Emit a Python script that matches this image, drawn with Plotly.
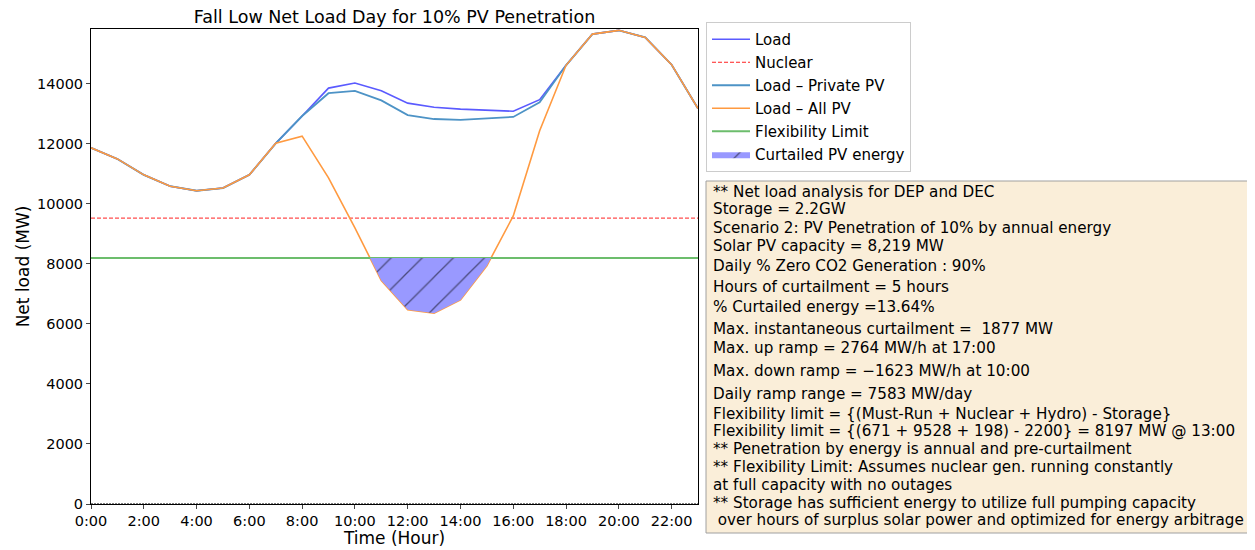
import numpy as np
import plotly.graph_objects as go

hours = list(range(24))
tick_vals = list(range(0, 24, 2))
tick_text = ["0:00", "2:00", "4:00", "6:00", "8:00", "10:00", "12:00", "14:00", "16:00", "18:00", "20:00", "22:00"]
y_ticks = [0, 2000, 4000, 6000, 8000, 10000, 12000, 14000]
y_tick_text = ["0", "2000", "4000", "6000", "8000", "10000", "12000", "14000"]

load = [11870, 11500, 10970, 10590, 10440, 10530, 10970, 12020, 12930, 13860, 14030, 13770,
        13360, 13220, 13160, 13125, 13090, 13475, 14620, 15660, 15785, 15550, 14640, 13180]
load_private_pv = [11870, 11500, 10970, 10590, 10440, 10530, 10970, 12020, 12930, 13690, 13770, 13450,
                   12960, 12830, 12800, 12860, 12900, 13390, 14620, 15660, 15785, 15550, 14640, 13180]
load_all_pv = [11870, 11500, 10970, 10590, 10440, 10530, 10970, 12020, 12260, 10870, 9200, 7450,
               6470, 6360, 6800, 7940, 9600, 12440, 14620, 15660, 15785, 15550, 14640, 13180]
nuclear = 9528
flex_limit = 8197

annotation_lines = [
    "** Net load analysis for DEP and DEC",
    "Storage = 2.2GW",
    "Scenario 2: PV Penetration of 10% by annual energy",
    "Solar PV capacity = 8,219 MW",
    "Daily % Zero CO2 Generation : 90%",
    "Hours of curtailment = 5 hours",
    "% Curtailed energy =13.64%",
    "Max. instantaneous curtailment =  1877 MW",
    "Max. up ramp = 2764 MW/h at 17:00",
    "Max. down ramp = \u22121623 MW/h at 10:00",
    "Daily ramp range = 7583 MW/day",
    "Flexibility limit = {(Must-Run + Nuclear + Hydro) - Storage}",
    "Flexibility limit = {(671 + 9528 + 198) - 2200} = 8197 MW @ 13:00",
    "** Penetration by energy is annual and pre-curtailment",
    "** Flexibility Limit: Assumes nuclear gen. running constantly",
    "at full capacity with no outages",
    "** Storage has sufficient energy to utilize full pumping capacity",
    "\u00a0over hours of surplus solar power and optimized for energy arbitrage",
]
line_py = [191.7, 209.3, 228.3, 245.7, 265.7, 287.3, 307, 329, 348.3, 371.3, 394, 414,
           431.3, 449, 466.7, 485, 502.7, 520]

# curtailed region polygon (below flexibility limit)
h = np.array(hours, dtype=float)
a = np.array(load_all_pv, dtype=float)
poly_x, poly_y = [], []
for i in range(len(h) - 1):
    y0, y1 = a[i], a[i + 1]
    if (y0 - flex_limit) * (y1 - flex_limit) < 0:
        xc = h[i] + (flex_limit - y0) / (y1 - y0)
        poly_x.append(xc); poly_y.append(flex_limit)
    if y1 < flex_limit:
        poly_x.append(h[i + 1]); poly_y.append(y1)
poly_x.append(poly_x[0]); poly_y.append(flex_limit)

OFF = 8  # page body margin
L, R, T, B = 91 - OFF, 698 - OFF, 29 - OFF, 504 - OFF
W, H = 1245, 540
def px(x):
    return (x - OFF - L) / (R - L)
def py(y):
    return (B - (y - OFF)) / (B - T)

fig = go.Figure()
fig.add_trace(go.Scatter(x=hours, y=load, mode="lines", name="Load", legendgroup="a",
                         line=dict(color="#5a5aff", width=1.6)))
fig.add_trace(go.Scatter(x=[0, 23], y=[nuclear, nuclear], mode="lines", name="Nuclear", legendgroup="b",
                         line=dict(color="#ff2020", width=1, dash="4px,2px")))
fig.add_trace(go.Scatter(x=hours, y=load_private_pv, mode="lines", name="Load \u2013 Private PV", legendgroup="c",
                         line=dict(color="#4d93c6", width=1.8)))
fig.add_trace(go.Scatter(x=hours, y=load_all_pv, mode="lines", name="Load \u2013 All PV", legendgroup="d",
                         line=dict(color="#ff9a40", width=1.6)))
fig.add_trace(go.Scatter(x=[0, 23], y=[flex_limit, flex_limit], mode="lines", name="Flexibility Limit", legendgroup="e",
                         line=dict(color="#6cbd6c", width=2)))
fig.add_trace(go.Scatter(x=poly_x, y=poly_y, mode="lines", fill="toself", name="Curtailed PV energy", legendgroup="f",
                         line=dict(width=0, color="rgba(0,0,0,0)"),
                         fillcolor="#9999ff",
                         fillpattern=dict(shape="/", fgcolor="black", bgcolor="#9999ff", size=22, solidity=0.06)))
fig.add_trace(go.Scatter(x=[0, 23], y=[0, 0], mode="lines", showlegend=False,
                         line=dict(color="black", width=1.2, dash="2px,1px")))

fig.add_shape(type="rect", xref="paper", yref="paper",
              x0=px(706), x1=px(1250), y0=py(533), y1=py(181),
              fillcolor="#faeed9", line=dict(color="#a0a0a0", width=1), layer="below")
for txt, yy in zip(annotation_lines, line_py):
    fig.add_annotation(x=px(710.5), y=py(yy), xref="paper", yref="paper", text=txt, showarrow=False,
                       xanchor="left", yanchor="middle", font=dict(size=15.2, color="black", family="DejaVu Sans"))

fig.update_layout(
    width=W, height=H,
    margin=dict(l=L, r=W - R, t=T, b=H - B, autoexpand=False),
    plot_bgcolor="white", paper_bgcolor="white",
    font=dict(family="DejaVu Sans", size=14, color="black"),
    title=dict(text="Fall Low Net Load Day for 10% PV Penetration", x=(L + R) / 2 / W, xanchor="center",
               y=1 - (17 - OFF) / H, yanchor="middle", font=dict(size=17.5)),
    legend=dict(x=px(706), y=py(22), xanchor="left", yanchor="top", bgcolor="white",
                bordercolor="#cccccc", borderwidth=1, font=dict(size=15),
                traceorder="grouped", tracegroupgap=0.5, itemwidth=38),
    xaxis=dict(range=[0, 23], tickvals=tick_vals, ticktext=tick_text, showgrid=False, zeroline=False,
               showline=True, linecolor="black", mirror=True, ticks="outside", ticklen=4, automargin=False,
               tickfont=dict(size=14.5), title=dict(text="Time (Hour)", font=dict(size=17), standoff=5)),
    yaxis=dict(range=[0, 15830], tickvals=y_ticks, ticktext=y_tick_text, showgrid=False, zeroline=False,
               showline=True, linecolor="black", mirror=True, ticks="outside", ticklen=4, automargin=False,
               tickfont=dict(size=14.5), title=dict(text="Net load (MW)", font=dict(size=17), standoff=3)),
)
fig.write_html("out.html")
